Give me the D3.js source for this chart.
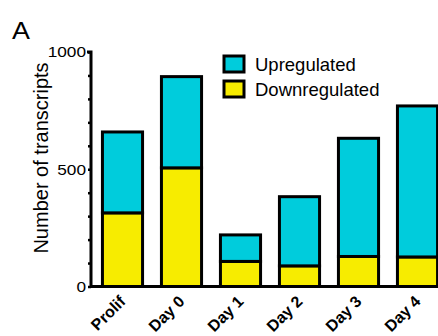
<!DOCTYPE html>
<html>
<head>
<meta charset="utf-8">
<script src="https://cdn.jsdelivr.net/npm/d3@7"></script>
<style>
  body { margin: 0; background: #fff; }
  svg text { font-family: "Liberation Sans", Arial, sans-serif; }
</style>
</head>
<body>
<div id="chart"></div>
<script>
const categories = ['Prolif', 'Day 0', 'Day 1', 'Day 2', 'Day 3', 'Day 4'];
const downregulated = [314, 506, 107, 88, 128, 126];
const upregulated = [345, 389, 113, 295, 504, 644];
const yTicks = [0, 500, 1000];
const seriesNames = ['Upregulated', 'Downregulated'];
const seriesColors = ['#00CCDC', '#F7EC00'];

const width = 438, height = 336;

const svg = d3.select('#chart')
  .append('svg')
  .attr('width', width)
  .attr('height', height);

const x = d3.scaleBand()
  .domain(categories)
  .range([93, 447])
  .paddingInner(0.32)
  .paddingOuter(0.16);

const y = d3.scaleLinear()
  .domain([0, 1000])
  .range([286.5, 52]);

// stacked bars: downregulated at bottom, upregulated on top
const rows = categories.map((c, i) => ({ cat: c, down: downregulated[i], up: upregulated[i] }));
const stack = d3.stack().keys(['down', 'up'])(rows);
const fillFor = { down: seriesColors[1], up: seriesColors[0] };

svg.append('g')
  .selectAll('g')
  .data(stack)
  .enter()
  .append('g')
  .attr('fill', d => fillFor[d.key])
  .selectAll('rect')
  .data(d => d)
  .enter()
  .append('rect')
  .attr('x', d => x(d.data.cat))
  .attr('y', d => y(d[1]))
  .attr('width', x.bandwidth())
  .attr('height', d => y(d[0]) - y(d[1]))
  .attr('stroke', '#000')
  .attr('stroke-width', 3);

// y axis
const yAxis = d3.axisLeft(y)
  .tickValues(d3.range(0, 1001, 100))
  .tickSize(3)
  .tickPadding(1)
  .tickFormat(d => yTicks.includes(d) ? d : '');

const gy = svg.append('g')
  .attr('transform', 'translate(91,0)')
  .call(yAxis);
gy.select('.domain').attr('stroke-width', 3).attr('d', `M-4,${y(1000)}H0V${y(0)}`);
gy.selectAll('.tick line').attr('stroke-width', 2.5);
gy.selectAll('.tick text')
  .attr('font-size', 15)
  .attr('fill', '#000')
  .attr('transform', 'scale(1.15,1)')
  .attr('x', -5 / 1.15);

// x axis
const gx = svg.append('g')
  .attr('transform', `translate(0,${y(0)})`)
  .call(d3.axisBottom(x).tickSize(0).tickPadding(0));
gx.select('.domain').attr('stroke-width', 3).attr('d', `M90,0H${width}`);
gx.selectAll('.tick text')
  .attr('font-size', 16)
  .attr('font-weight', 'bold')
  .attr('fill', '#000')
  .attr('text-anchor', 'end')
  .attr('dy', 0)
  .attr('transform', 'translate(4,16) rotate(-45)');

// y label
svg.append('text')
  .attr('transform', 'translate(48,158) rotate(-90)')
  .attr('text-anchor', 'middle')
  .attr('font-size', 20)
  .text('Number of transcripts');

// panel letter
svg.append('text')
  .attr('transform', 'translate(12,39) scale(1.12,1)')
  .attr('font-size', 24)
  .text('A');

// legend
const legend = svg.append('g')
  .selectAll('g')
  .data(seriesNames)
  .enter()
  .append('g')
  .attr('transform', (d, i) => `translate(224,${56 + i * 25})`);
legend.append('rect')
  .attr('width', 20)
  .attr('height', 16)
  .attr('fill', (d, i) => seriesColors[i])
  .attr('stroke', '#000')
  .attr('stroke-width', 3);
legend.append('text')
  .attr('x', 31)
  .attr('y', 15)
  .attr('font-size', 18.5)
  .text(d => d);
</script>
</body>
</html>
